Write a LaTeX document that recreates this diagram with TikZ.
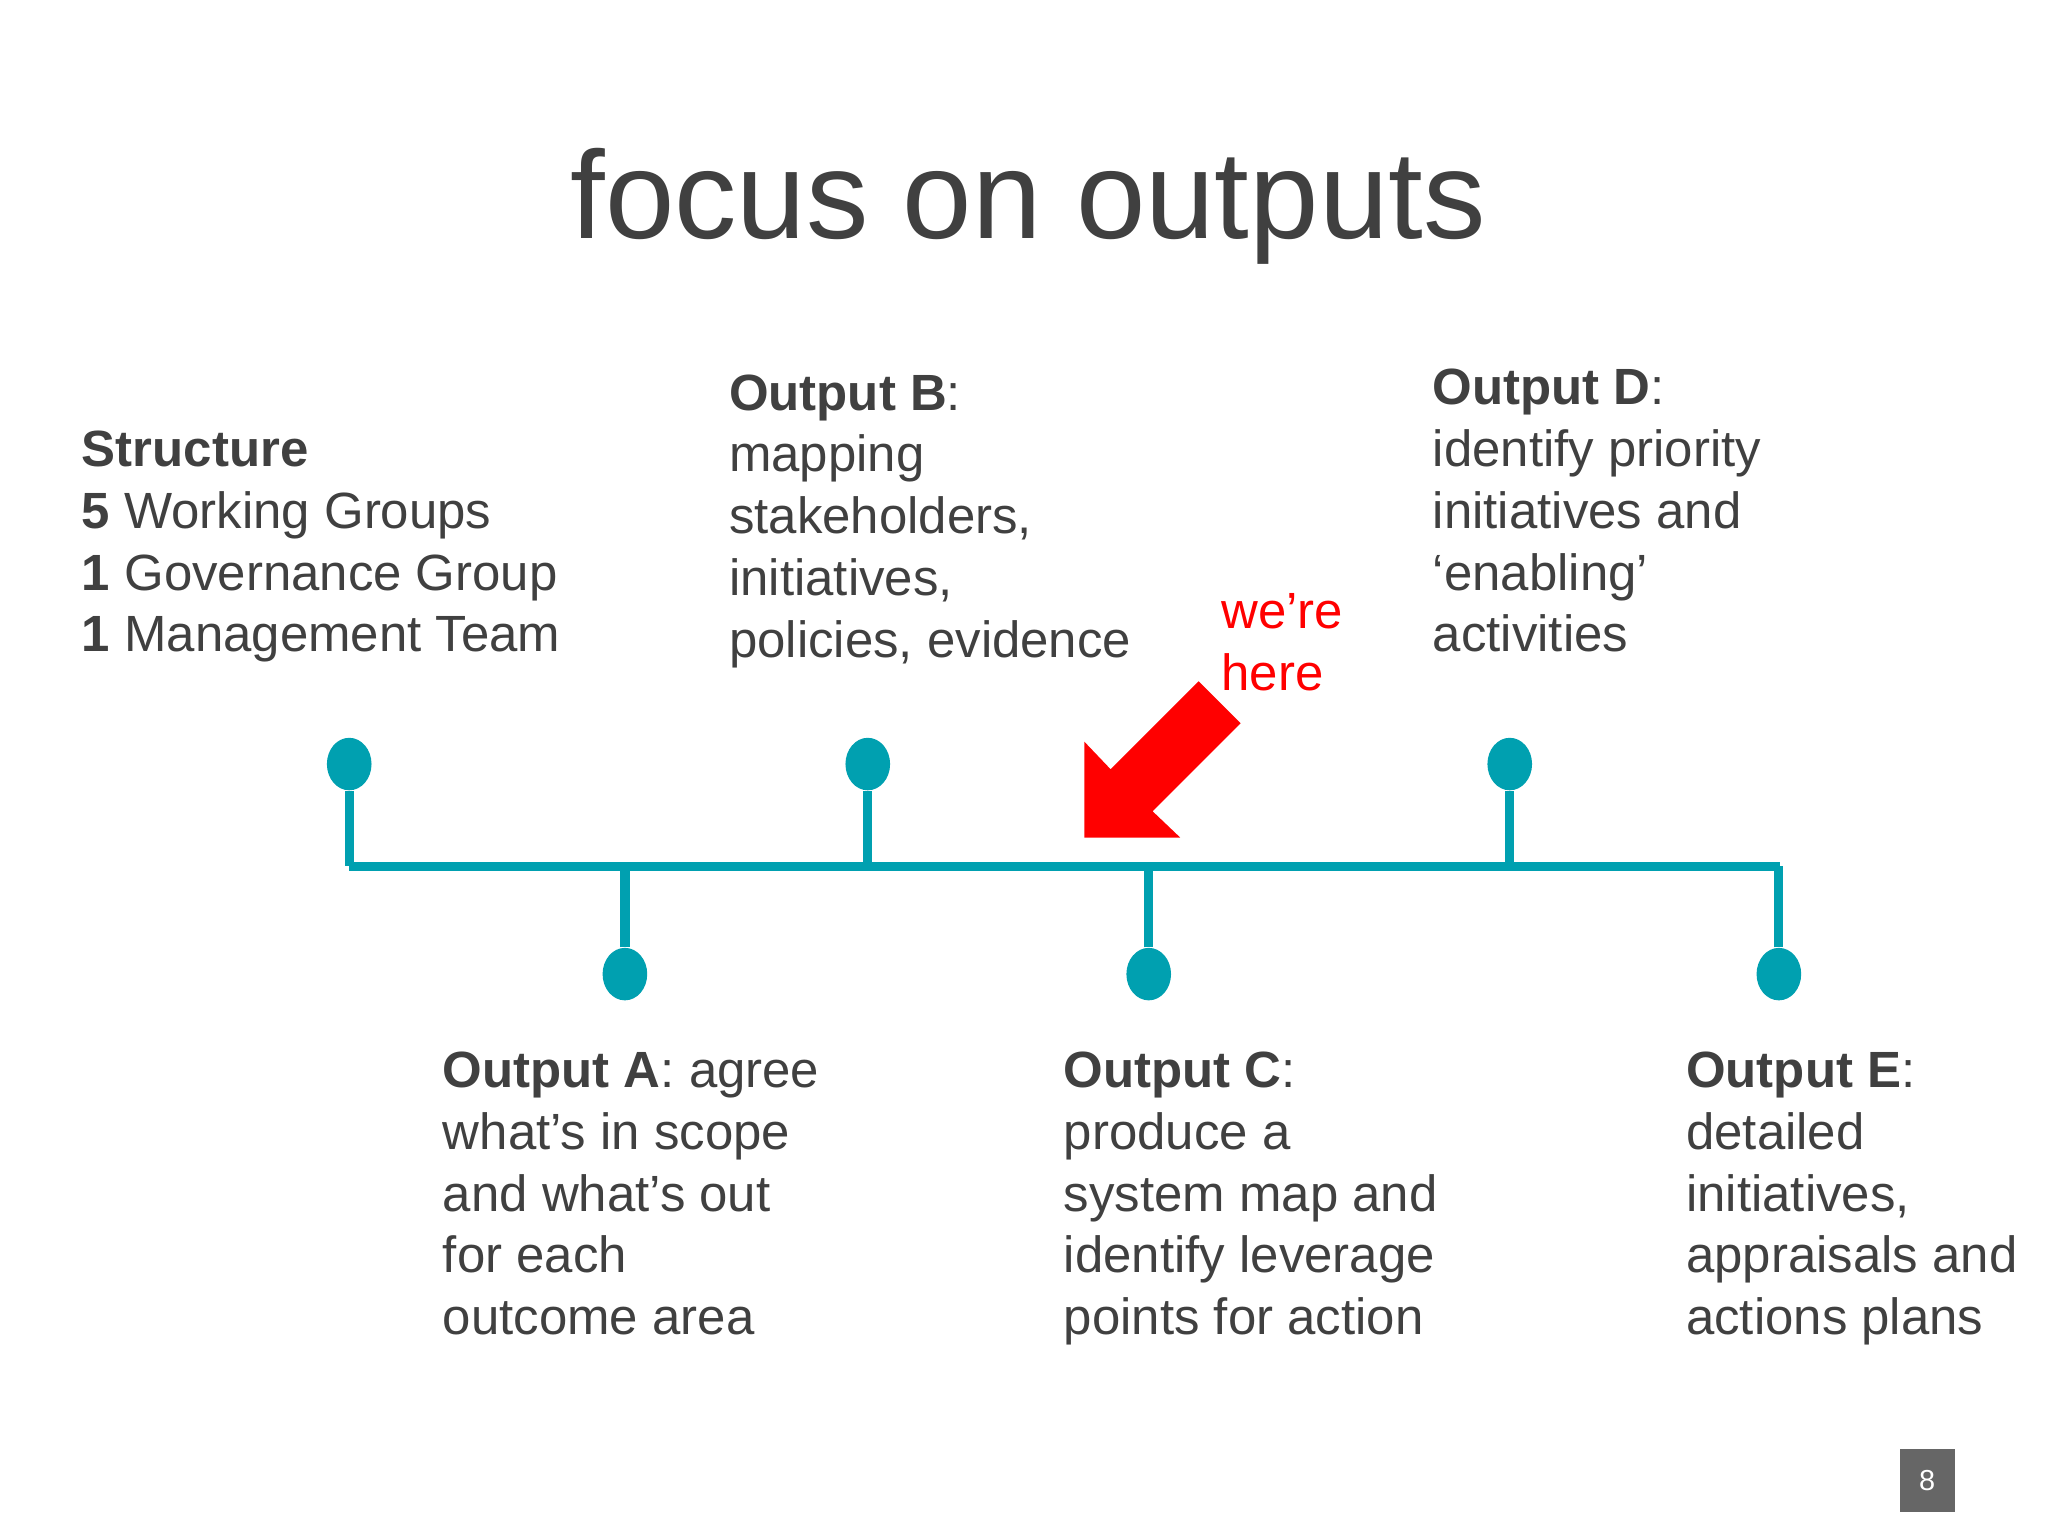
\documentclass[tikz,border=0pt]{standalone}
\usepackage{fontspec}
\usetikzlibrary{shapes.geometric}
\setmainfont{Liberation Sans}
\definecolor{teal1}{HTML}{00A0B0}
\definecolor{txt}{HTML}{404040}
\begin{document}
\begin{tikzpicture}[x=0.5pt,y=-0.5pt,
  lbl/.style={anchor=north west,inner sep=0pt,align=left,text=txt,font=\fontsize{19.4}{23.5}\selectfont},
  dot/.style={ellipse,fill=teal1,minimum width=17pt,minimum height=20pt,inner sep=0pt},
  tl/.style={teal1,line width=3.5pt}]
\useasboundingbox (0,0) rectangle (1560,1170);
\fill[white] (0,0) rectangle (1560,1170);
\node[anchor=base,inner sep=0pt,text=txt,font=\fontsize{47.5}{56}\selectfont] (title) at (783,182) {focus on outputs};
% timeline
\coordinate (L) at (266,660); \coordinate (R) at (1356,660);
\draw[tl] (L) -- (R);
\foreach \n/\x/\y in {s/266/582,b/661/582,d/1150/582,a/476/742,c/875/742,e/1355/742}{
  \node[dot] (\n) at (\x,\y) {};
  \coordinate (\n0) at (\x,660);
  \draw[tl] (\n) -- (\n0);
}
% arrow
\fill[red] (826,638) -- (899,638) -- (878,618) -- (945,551) -- (913,519) -- (846,586) -- (826,565) -- cycle;
\node[lbl,text=red] (here) at (930,452) {we’re\\here};
\node[lbl] (ts) at (62,328) {\textbf{Structure}\\\textbf{5} Working Groups\\\textbf{1} Governance Group\\\textbf{1} Management Team};
\node[lbl] (tb) at (555,285) {\textbf{Output B}:\\mapping\\stakeholders,\\initiatives,\\policies, evidence};
\node[lbl] (td) at (1091,281) {\textbf{Output D}:\\identify priority\\initiatives and\\‘enabling’\\activities};
\node[lbl] (ta) at (337,801) {\textbf{Output A}: agree\\what’s in scope\\and what’s out\\for each\\outcome area};
\node[lbl] (tc) at (810,801) {\textbf{Output C}:\\produce a\\system map and\\identify leverage\\points for action};
\node[lbl] (te) at (1284,801) {\textbf{Output E}:\\detailed\\initiatives,\\appraisals and\\actions plans};
% page number
\node[fill=gray!80!black,text=white,minimum width=21pt,minimum height=24pt,inner sep=0pt,font=\fontsize{11}{13}\selectfont] (pg) at (1468,1128) {8};
\end{tikzpicture}
\end{document}
